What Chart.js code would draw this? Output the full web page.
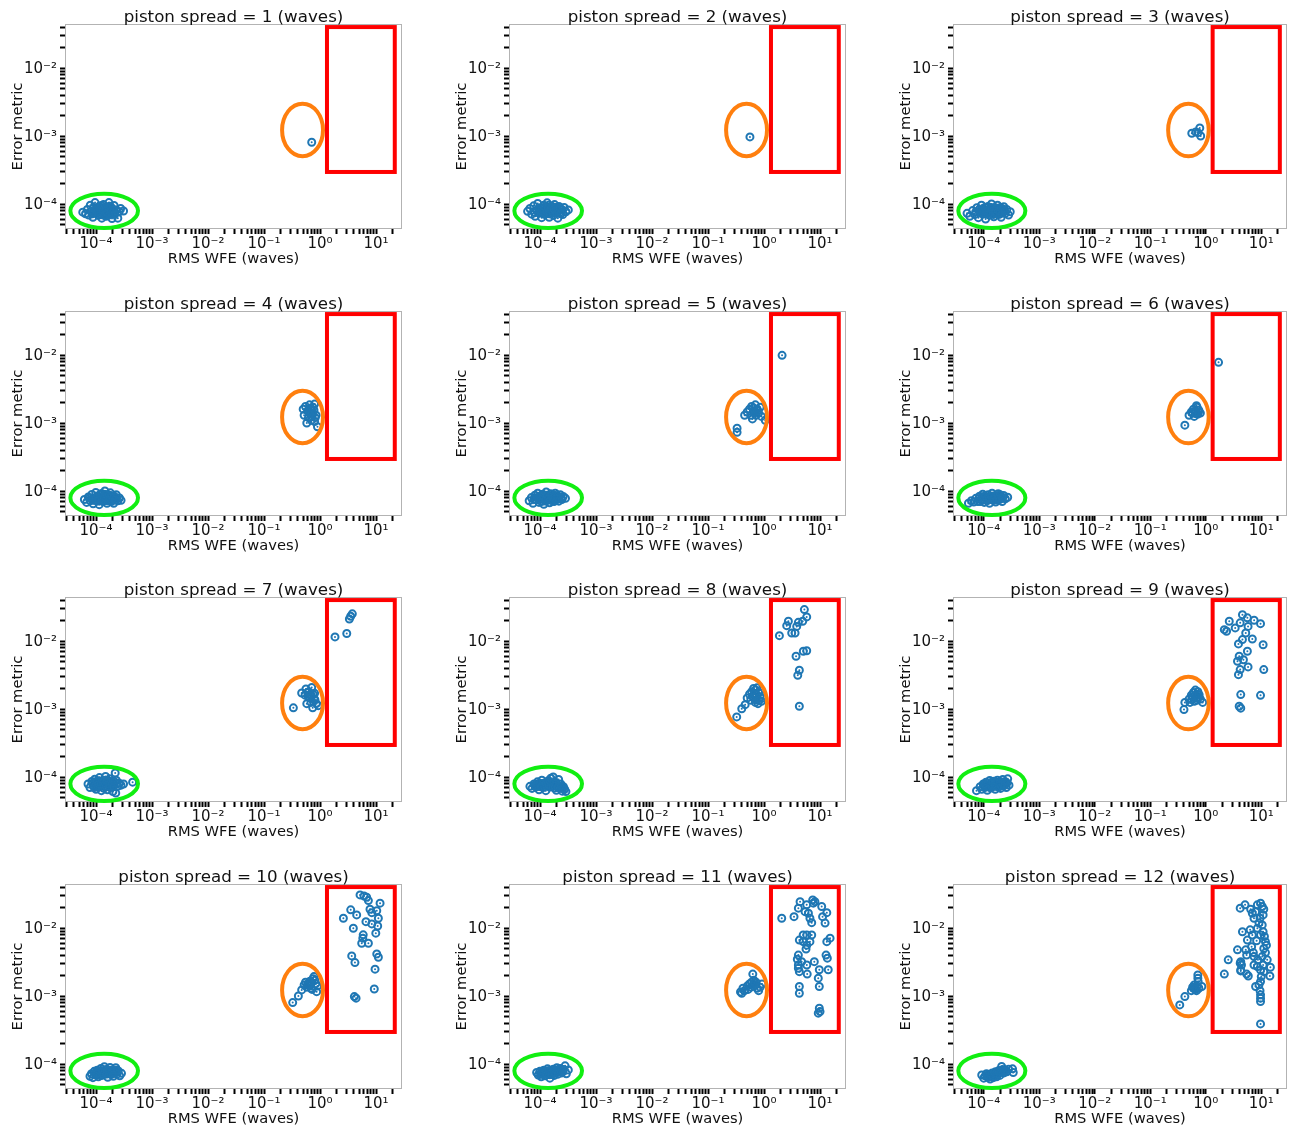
<!DOCTYPE html>
<html>
<head>
<meta charset="utf-8">
<script src="https://cdn.jsdelivr.net/npm/chart.js@4.4.1/dist/chart.umd.min.js"></script>
<style>
  html, body { margin: 0; padding: 0; background: #fff; overflow: hidden; width: 1292px; height: 1128px; }
  canvas.panel { position: absolute; }
</style>
</head>
<body>
<script>
// ---- data: [RMS WFE (waves), error metric] per piston spread ----
const spreads = [1, 2, 3, 4, 5, 6, 7, 8, 9, 10, 11, 12];

const spread1 = [
  [5.8e-5,7.6e-5],[6.5e-5,7.2e-5],[7.0e-5,8.3e-5],[7.4e-5,6.9e-5],[7.9e-5,9.6e-5],[8.3e-5,7.8e-5],[8.8e-5,6.4e-5],
  [9.2e-5,8.9e-5],[9.6e-5,1.05e-4],[1.0e-4,7.3e-5],[1.05e-4,8.1e-5],[1.1e-4,6.8e-5],[1.14e-4,9.3e-5],[1.18e-4,7.6e-5],
  [1.22e-4,8.6e-5],[1.27e-4,6.2e-5],[1.32e-4,7.9e-5],[1.36e-4,9.8e-5],[1.41e-4,7.1e-5],[1.47e-4,8.4e-5],[1.52e-4,6.6e-5],
  [1.58e-4,9.1e-5],[1.64e-4,7.7e-5],[1.7e-4,1.05e-4],[1.77e-4,7.3e-5],[1.85e-4,8.7e-5],[1.93e-4,6.1e-5],[2.0e-4,7.9e-5],
  [2.1e-4,9.5e-5],[2.2e-4,7.4e-5],[2.3e-4,8.2e-5],[2.45e-4,6.2e-5],[2.6e-4,7.7e-5],[2.75e-4,8.6e-5],[3.1e-4,7.9e-5],
  [9.0e-5,7.5e-5],[1.6e-4,8.0e-5],[1.0e-4,8.5e-5],[1.08e-4,7.6e-5],[1.15e-4,8.0e-5],[1.2e-4,7.0e-5],[1.3e-4,8.8e-5],
  [1.35e-4,7.4e-5],[1.45e-4,7.8e-5],[1.5e-4,9.0e-5],[1.55e-4,7.3e-5],[1.65e-4,8.5e-5],[1.75e-4,7.9e-5],[1.8e-4,9.3e-5],
  [1.9e-4,7.5e-5],[2.05e-4,8.3e-5],[2.15e-4,7.0e-5],[9.5e-5,8.1e-5],[8.5e-5,7.2e-5],[1.25e-4,9.5e-5],[1.4e-4,6.8e-5],
  [1.7e-4,6.9e-5],
  [0.71,8.1e-4]
];
const spread2 = [
  [6.0e-5,7.8e-5],[6.6e-5,8.6e-5],[7.1e-5,7.1e-5],[7.7e-5,9.4e-5],[8.2e-5,6.6e-5],[8.7e-5,8.1e-5],[9.1e-5,1.02e-4],
  [9.7e-5,7.3e-5],[1.02e-4,8.8e-5],[1.07e-4,6.3e-5],[1.12e-4,7.9e-5],[1.17e-4,9.6e-5],[1.22e-4,7.0e-5],[1.28e-4,8.5e-5],
  [1.34e-4,1.04e-4],[1.4e-4,7.5e-5],[1.46e-4,6.4e-5],[1.52e-4,9.0e-5],[1.59e-4,7.8e-5],[1.66e-4,8.6e-5],[1.74e-4,6.8e-5],
  [1.82e-4,9.8e-5],[1.9e-4,7.4e-5],[1.98e-4,8.3e-5],[2.08e-4,6.2e-5],[2.18e-4,9.2e-5],[2.3e-4,7.6e-5],[2.42e-4,8.4e-5],
  [2.55e-4,7.0e-5],[2.7e-4,8.9e-5],[2.9e-4,7.7e-5],[3.2e-4,8.2e-5],[1.25e-4,7.7e-5],[1.7e-4,8.0e-5],
  [9.4e-5,8.4e-5],[1.0e-4,7.7e-5],[1.1e-4,8.4e-5],[1.15e-4,7.3e-5],[1.2e-4,9.0e-5],[1.32e-4,7.8e-5],[1.38e-4,8.9e-5],
  [1.48e-4,7.2e-5],[1.55e-4,8.3e-5],[1.62e-4,9.3e-5],[1.7e-4,7.4e-5],[1.78e-4,8.4e-5],[1.86e-4,7.9e-5],[1.95e-4,9.0e-5],
  [2.02e-4,7.3e-5],[2.12e-4,8.0e-5],[2.25e-4,8.6e-5],[8.0e-5,7.5e-5],[1.44e-4,9.6e-5],[2.35e-4,7.2e-5],
  [0.56,9.7e-4]
];
const spread3 = [
  [5.0e-5,7.3e-5],[5.6e-5,6.6e-5],[6.3e-5,8.0e-5],[6.9e-5,7.0e-5],[7.5e-5,8.8e-5],[8.0e-5,6.3e-5],[8.6e-5,7.7e-5],
  [9.1e-5,9.6e-5],[9.7e-5,7.1e-5],[1.02e-4,8.4e-5],[1.08e-4,6.0e-5],[1.13e-4,7.8e-5],[1.19e-4,9.2e-5],[1.25e-4,6.9e-5],
  [1.31e-4,8.6e-5],[1.38e-4,1.0e-4],[1.45e-4,7.4e-5],[1.52e-4,6.5e-5],[1.6e-4,8.9e-5],[1.68e-4,7.6e-5],[1.77e-4,9.6e-5],
  [1.86e-4,7.0e-5],[1.96e-4,8.4e-5],[2.06e-4,6.4e-5],[2.18e-4,7.9e-5],[2.3e-4,9.1e-5],[2.45e-4,7.3e-5],[2.6e-4,8.3e-5],
  [2.8e-4,6.9e-5],[3.0e-4,7.7e-5],[1.15e-4,7.3e-5],[1.55e-4,8.1e-5],
  [8.3e-5,8.3e-5],[9.0e-5,7.3e-5],[9.9e-5,7.9e-5],[1.05e-4,8.9e-5],[1.1e-4,7.2e-5],[1.22e-4,8.2e-5],[1.28e-4,7.5e-5],
  [1.35e-4,8.0e-5],[1.42e-4,8.8e-5],[1.48e-4,7.0e-5],[1.57e-4,7.6e-5],[1.64e-4,8.4e-5],[1.72e-4,7.2e-5],[1.82e-4,8.0e-5],
  [1.92e-4,7.6e-5],[2.0e-4,8.9e-5],[2.12e-4,7.3e-5],[2.25e-4,8.4e-5],[7.2e-5,7.6e-5],[2.38e-4,7.8e-5],
  [0.56,1.1e-3],[0.66,1.15e-3],[0.78,1.31e-3],[0.81,1.0e-3],[0.72,1.12e-3]
];
const spread4 = [
  [6.2e-5,7.5e-5],[6.8e-5,6.8e-5],[7.3e-5,8.2e-5],[7.9e-5,7.2e-5],[8.4e-5,8.9e-5],[8.9e-5,6.5e-5],[9.4e-5,7.9e-5],
  [9.9e-5,9.5e-5],[1.04e-4,7.1e-5],[1.09e-4,8.4e-5],[1.14e-4,6.3e-5],[1.2e-4,7.7e-5],[1.26e-4,9.2e-5],[1.32e-4,7.0e-5],
  [1.38e-4,8.6e-5],[1.44e-4,1.0e-4],[1.5e-4,7.4e-5],[1.57e-4,6.6e-5],[1.64e-4,8.8e-5],[1.72e-4,7.6e-5],[1.8e-4,9.4e-5],
  [1.88e-4,7.0e-5],[1.97e-4,8.2e-5],[2.07e-4,6.6e-5],[2.18e-4,7.9e-5],[2.3e-4,8.8e-5],[2.45e-4,7.2e-5],[2.62e-4,7.9e-5],
  [2.8e-4,7.3e-5],[1.22e-4,7.4e-5],[1.6e-4,8.0e-5],
  [8.7e-5,7.7e-5],[9.6e-5,7.3e-5],[1.02e-4,8.1e-5],[1.12e-4,7.5e-5],[1.17e-4,8.8e-5],[1.24e-4,8.2e-5],[1.3e-4,7.6e-5],
  [1.36e-4,7.3e-5],[1.41e-4,8.1e-5],[1.47e-4,8.9e-5],[1.54e-4,7.9e-5],[1.62e-4,7.2e-5],[1.68e-4,8.3e-5],[1.76e-4,7.8e-5],
  [1.84e-4,8.6e-5],[1.93e-4,7.4e-5],[2.02e-4,7.8e-5],[2.12e-4,8.4e-5],[2.24e-4,7.4e-5],[7.6e-5,7.8e-5],
  [0.5,1.6e-3],[0.55,1.75e-3],[0.6,1.5e-3],[0.65,1.85e-3],[0.7,1.6e-3],[0.75,1.4e-3],[0.8,1.9e-3],[0.85,1.3e-3],
  [0.62,1.2e-3],[0.7,1.1e-3],[0.58,1.0e-3],[0.8,1.05e-3],[0.9,8.8e-4],[0.68,1.35e-3],[0.52,1.3e-3],[0.75,1.7e-3],
  [0.64,1.45e-3],[0.72,1.25e-3],[0.78,1.55e-3],[0.66,1.65e-3],[0.82,1.2e-3]
];
const spread5 = [
  [6.4e-5,7.2e-5],[7.0e-5,8.0e-5],[7.5e-5,6.6e-5],[8.1e-5,8.7e-5],[8.6e-5,7.4e-5],[9.1e-5,9.3e-5],[9.6e-5,6.8e-5],
  [1.01e-4,8.2e-5],[1.06e-4,7.0e-5],[1.12e-4,9.0e-5],[1.17e-4,6.4e-5],[1.23e-4,7.8e-5],[1.29e-4,9.7e-5],[1.35e-4,7.3e-5],
  [1.41e-4,8.5e-5],[1.48e-4,6.7e-5],[1.55e-4,9.1e-5],[1.62e-4,7.6e-5],[1.7e-4,8.4e-5],[1.78e-4,7.0e-5],[1.87e-4,9.3e-5],
  [1.96e-4,7.7e-5],[2.06e-4,8.5e-5],[2.17e-4,7.1e-5],[2.3e-4,8.8e-5],[2.45e-4,7.5e-5],[2.6e-4,8.3e-5],[2.85e-4,7.8e-5],
  [1.2e-4,8.1e-5],[1.6e-4,7.9e-5],
  [8.8e-5,8.0e-5],[9.8e-5,7.6e-5],[1.04e-4,8.6e-5],[1.09e-4,7.7e-5],[1.15e-4,8.3e-5],[1.26e-4,7.1e-5],[1.32e-4,8.7e-5],
  [1.38e-4,7.8e-5],[1.45e-4,8.0e-5],[1.51e-4,7.4e-5],[1.58e-4,8.6e-5],[1.66e-4,7.2e-5],[1.74e-4,7.9e-5],[1.82e-4,8.7e-5],
  [1.91e-4,7.3e-5],[2.01e-4,8.0e-5],[2.12e-4,7.8e-5],[2.22e-4,8.2e-5],[7.8e-5,7.6e-5],[2.38e-4,8.0e-5],
  [0.33,8.4e-4],[0.33,7.3e-4],[0.45,1.3e-3],[0.5,1.45e-3],[0.55,1.6e-3],[0.6,1.75e-3],[0.65,1.5e-3],[0.7,1.85e-3],
  [0.75,1.6e-3],[0.8,1.4e-3],[0.9,1.25e-3],[1.05,1.1e-3],[0.62,1.15e-3],[0.72,1.3e-3],[0.85,1.7e-3],[0.58,1.3e-3],
  [0.68,1.42e-3],[0.78,1.5e-3],[0.64,1.65e-3],
  [2.1,9.9e-3]
];
const spread6 = [
  [5.3e-5,6.6e-5],[6.0e-5,7.2e-5],[6.6e-5,6.9e-5],[7.2e-5,7.8e-5],[7.8e-5,7.0e-5],[8.4e-5,8.4e-5],[9.0e-5,7.4e-5],
  [9.6e-5,9.0e-5],[1.02e-4,6.8e-5],[1.08e-4,8.0e-5],[1.14e-4,7.2e-5],[1.2e-4,8.8e-5],[1.27e-4,6.6e-5],[1.34e-4,7.9e-5],
  [1.41e-4,9.3e-5],[1.48e-4,7.3e-5],[1.56e-4,8.5e-5],[1.64e-4,6.9e-5],[1.73e-4,8.0e-5],[1.82e-4,9.1e-5],[1.92e-4,7.5e-5],
  [2.03e-4,8.3e-5],[2.15e-4,7.0e-5],[2.28e-4,8.6e-5],[2.45e-4,7.7e-5],[2.7e-4,8.1e-5],[1.3e-4,7.5e-5],[1.7e-4,7.8e-5],
  [8.1e-5,7.7e-5],[8.7e-5,7.0e-5],[9.3e-5,8.1e-5],[9.9e-5,7.6e-5],[1.05e-4,8.5e-5],[1.11e-4,7.6e-5],[1.17e-4,8.1e-5],
  [1.24e-4,7.8e-5],[1.38e-4,8.4e-5],[1.45e-4,7.7e-5],[1.52e-4,7.9e-5],[1.6e-4,8.2e-5],[1.68e-4,7.4e-5],[1.78e-4,8.5e-5],
  [1.87e-4,7.9e-5],[1.97e-4,8.8e-5],[2.09e-4,7.8e-5],[2.2e-4,8.0e-5],
  [0.42,9.3e-4],[0.5,1.3e-3],[0.55,1.45e-3],[0.6,1.6e-3],[0.65,1.5e-3],[0.7,1.7e-3],[0.75,1.55e-3],[0.8,1.4e-3],
  [0.62,1.25e-3],[0.72,1.35e-3],[0.68,1.8e-3],[0.58,1.4e-3],[0.66,1.38e-3],[0.74,1.45e-3],
  [1.7,7.8e-3]
];
const spread7 = [
  [7.2e-5,7.9e-5],[7.8e-5,7.0e-5],[8.4e-5,8.6e-5],[9.0e-5,7.4e-5],[9.5e-5,9.3e-5],[1.0e-4,6.6e-5],[1.05e-4,8.0e-5],
  [1.1e-4,7.1e-5],[1.15e-4,9.8e-5],[1.2e-4,8.4e-5],[1.25e-4,6.3e-5],[1.3e-4,7.6e-5],[1.36e-4,9.0e-5],[1.42e-4,7.2e-5],
  [1.48e-4,1.02e-4],[1.55e-4,8.2e-5],[1.6e-4,6.5e-5],[1.67e-4,7.8e-5],[1.74e-4,9.4e-5],[1.8e-4,7.0e-5],[1.9e-4,8.6e-5],
  [2.0e-4,6.1e-5],[2.1e-4,7.7e-5],[2.2e-4,1.15e-4],[2.25e-4,5.8e-5],[2.3e-4,9.0e-5],[2.45e-4,7.3e-5],[2.6e-4,8.1e-5],
  [2.8e-4,7.6e-5],[3.1e-4,7.9e-5],[4.5e-4,8.4e-5],[1.12e-4,8.8e-5],[1.38e-4,6.8e-5],[1.63e-4,8.9e-5],[9.8e-5,7.7e-5],
  [8.7e-5,8.0e-5],[9.3e-5,7.0e-5],[1.03e-4,8.7e-5],[1.08e-4,7.6e-5],[1.18e-4,7.5e-5],[1.23e-4,7.9e-5],[1.33e-4,8.3e-5],
  [1.45e-4,8.0e-5],[1.52e-4,7.4e-5],[1.58e-4,8.6e-5],[1.7e-4,7.3e-5],[1.78e-4,8.3e-5],[1.85e-4,7.7e-5],[1.95e-4,8.2e-5],
  [2.05e-4,7.2e-5],[2.15e-4,8.5e-5],[2.38e-4,8.0e-5],
  [0.334,1.04e-3],[0.47,1.72e-3],[0.56,1.97e-3],[0.71,2.08e-3],[0.76,1.63e-3],[0.81,1.37e-3],[0.66,1.46e-3],
  [0.58,1.2e-3],[0.74,1.04e-3],[0.93,1.12e-3],[0.62,1.5e-3],[0.54,1.6e-3],[0.63,1.8e-3],[0.8,1.7e-3],[0.69,1.25e-3],
  [0.86,1.2e-3],[0.6,1.75e-3],[0.7,1.55e-3],[0.78,1.42e-3],[0.67,1.65e-3],
  [1.85,0.0115],[3.0,0.0129],[3.34,0.0211],[3.53,0.0231],[3.77,0.0251]
];
const spread8 = [
  [6.6e-5,7.3e-5],[7.2e-5,6.8e-5],[7.8e-5,7.9e-5],[8.4e-5,7.1e-5],[9.0e-5,8.5e-5],[9.6e-5,6.5e-5],[1.02e-4,7.7e-5],
  [1.08e-4,9.0e-5],[1.14e-4,7.0e-5],[1.2e-4,8.2e-5],[1.27e-4,6.3e-5],[1.34e-4,7.5e-5],[1.41e-4,8.8e-5],[1.48e-4,7.1e-5],
  [1.56e-4,9.6e-5],[1.64e-4,8.0e-5],[1.72e-4,1.0e-4],[1.8e-4,6.9e-5],[1.88e-4,8.4e-5],[1.96e-4,6.4e-5],[2.05e-4,7.6e-5],
  [2.15e-4,9.2e-5],[2.25e-4,6.8e-5],[2.35e-4,7.9e-5],[2.5e-4,6.2e-5],[2.62e-4,7.2e-5],[2.75e-4,6.6e-5],[2.9e-4,6.1e-5],
  [1.3e-4,8.4e-5],[1.6e-4,7.3e-5],[2.2e-4,7.2e-5],
  [8.1e-5,7.5e-5],[8.7e-5,7.9e-5],[9.3e-5,7.3e-5],[9.9e-5,8.1e-5],[1.05e-4,7.2e-5],[1.11e-4,7.9e-5],[1.17e-4,7.5e-5],
  [1.24e-4,7.8e-5],[1.38e-4,8.0e-5],[1.44e-4,7.7e-5],[1.52e-4,8.4e-5],[1.68e-4,7.6e-5],[1.76e-4,8.3e-5],[1.84e-4,7.4e-5],
  [1.92e-4,7.9e-5],[2.1e-4,7.0e-5],[2.3e-4,6.9e-5],[2.4e-4,7.3e-5],[2.55e-4,6.8e-5],
  [0.325,7.65e-4],[0.4,1.01e-3],[0.46,1.16e-3],[0.5,1.45e-3],[0.55,1.65e-3],[0.6,1.8e-3],[0.65,2.0e-3],[0.7,1.9e-3],
  [0.75,2.05e-3],[0.8,1.75e-3],[0.85,1.5e-3],[0.9,1.3e-3],[0.95,1.45e-3],[0.72,1.35e-3],[0.62,1.55e-3],[0.78,1.2e-3],
  [0.68,1.7e-3],[0.88,1.9e-3],[0.58,1.35e-3],[0.66,1.48e-3],[0.74,1.6e-3],[0.82,1.35e-3],[0.7,1.25e-3],
  [1.88,0.012],[2.54,0.0168],[2.72,0.0195],[3.12,0.0131],[3.58,0.0131],[3.83,0.0164],[4.1,0.0188],[4.9,0.0195],
  [5.25,0.029],[5.78,0.0226],[3.73,5.96e-3],[5.03,7.06e-3],[5.78,7.2e-3],[4.27,3.71e-3],[4.0,3.13e-3],[4.27,1.1e-3]
];
const spread9 = [
  [7.4e-5,6.3e-5],[8.6e-5,7.2e-5],[9.2e-5,6.6e-5],[9.8e-5,7.9e-5],[1.04e-4,7.0e-5],[1.1e-4,8.4e-5],[1.16e-4,6.4e-5],
  [1.22e-4,7.6e-5],[1.28e-4,8.9e-5],[1.34e-4,6.9e-5],[1.4e-4,8.1e-5],[1.47e-4,7.3e-5],[1.54e-4,8.7e-5],[1.61e-4,6.6e-5],
  [1.68e-4,7.8e-5],[1.76e-4,9.0e-5],[1.84e-4,7.1e-5],[1.92e-4,8.3e-5],[2.01e-4,6.8e-5],[2.1e-4,8.0e-5],[2.2e-4,9.2e-5],
  [2.3e-4,7.4e-5],[2.42e-4,8.5e-5],[2.55e-4,7.0e-5],[2.7e-4,9.4e-5],[2.85e-4,7.6e-5],[1.5e-4,7.6e-5],[1.8e-4,7.7e-5],
  [1.01e-4,7.5e-5],[1.07e-4,7.7e-5],[1.13e-4,7.3e-5],[1.19e-4,8.1e-5],[1.25e-4,7.2e-5],[1.31e-4,7.9e-5],[1.37e-4,7.5e-5],
  [1.44e-4,8.6e-5],[1.57e-4,8.0e-5],[1.64e-4,7.3e-5],[1.72e-4,8.4e-5],[1.88e-4,7.7e-5],[1.97e-4,8.6e-5],[2.06e-4,7.4e-5],
  [2.15e-4,8.4e-5],[2.25e-4,7.8e-5],[2.36e-4,8.1e-5],[2.48e-4,7.8e-5],[2.62e-4,8.2e-5],
  [0.405,9.8e-4],[0.42,1.25e-3],[0.5,1.4e-3],[0.55,1.6e-3],[0.6,1.75e-3],[0.65,1.9e-3],[0.7,1.65e-3],[0.75,1.5e-3],
  [0.8,1.4e-3],[0.88,1.25e-3],[0.62,1.3e-3],[0.68,1.45e-3],[0.58,1.5e-3],[0.72,1.8e-3],[0.52,1.25e-3],
  [0.64,1.55e-3],[0.76,1.62e-3],[0.7,1.35e-3],[0.56,1.38e-3],
  [2.16,0.0147],[2.37,0.0139],[2.65,0.0195],[3.39,0.0156],[4.17,0.0185],[4.58,0.0244],[5.62,0.0219],[5.78,0.0164],
  [7.43,0.0202],[9.7,0.018],[5.25,0.0131],[4.58,0.0105],[6.9,0.0107],[3.88,9.06e-3],[10.8,8.8e-3],[4.0,5.96e-3],
  [3.73,5.03e-3],[5.62,7.06e-3],[4.77,5.3e-3],[5.78,4.16e-3],[4.17,3.8e-3],[3.88,3.2e-3],[11.1,3.8e-3],
  [4.27,1.63e-3],[9.7,1.59e-3],[4.0,1.1e-3],[4.27,1.03e-3]
];
const spread10 = [
  [7.8e-5,6.6e-5],[8.3e-5,7.2e-5],[8.8e-5,6.3e-5],[9.3e-5,7.8e-5],[9.9e-5,6.9e-5],[1.05e-4,8.1e-5],[1.1e-4,6.5e-5],
  [1.16e-4,7.5e-5],[1.22e-4,8.6e-5],[1.28e-4,6.8e-5],[1.34e-4,7.9e-5],[1.41e-4,9.1e-5],[1.48e-4,7.1e-5],[1.55e-4,8.3e-5],
  [1.62e-4,6.4e-5],[1.7e-4,7.6e-5],[1.78e-4,8.9e-5],[1.86e-4,7.0e-5],[1.95e-4,8.2e-5],[2.04e-4,6.6e-5],[2.14e-4,7.7e-5],
  [2.25e-4,8.8e-5],[2.37e-4,7.1e-5],[2.5e-4,7.9e-5],[2.65e-4,6.7e-5],[2.85e-4,7.3e-5],[1.2e-4,7.3e-5],[1.65e-4,7.6e-5],
  [9.6e-5,7.3e-5],[1.02e-4,7.5e-5],[1.08e-4,7.3e-5],[1.13e-4,7.9e-5],[1.19e-4,6.9e-5],[1.25e-4,7.7e-5],[1.31e-4,7.2e-5],
  [1.38e-4,7.5e-5],[1.45e-4,8.2e-5],[1.52e-4,7.6e-5],[1.58e-4,7.2e-5],[1.74e-4,8.1e-5],[1.82e-4,7.4e-5],[1.9e-4,7.7e-5],
  [2.0e-4,7.3e-5],[2.1e-4,8.2e-5],[2.2e-4,7.4e-5],[2.32e-4,8.1e-5],
  [0.325,8.0e-4],[0.41,1.0e-3],[0.47,1.23e-3],[0.52,1.45e-3],[0.55,1.6e-3],[0.6,1.5e-3],[0.65,1.4e-3],[0.7,1.55e-3],
  [0.75,1.8e-3],[0.78,1.93e-3],[0.81,1.7e-3],[0.87,1.16e-3],[0.72,1.25e-3],[0.9,1.4e-3],[0.58,1.35e-3],[0.66,1.65e-3],
  [0.62,1.45e-3],[0.84,1.52e-3],[0.69,1.3e-3],
  [2.61,0.0139],[3.53,0.0185],[4.51,0.0156],[3.93,9.93e-3],[5.18,0.0307],[6.1,0.0296],[6.8,0.0283],[7.3,0.0253],
  [11.8,0.0232],[7.8,0.0189],[8.4,0.0168],[10.3,0.018],[6.6,0.0124],[8.4,0.0115],[11.0,0.0139],[10.7,0.0107],
  [5.9,7.94e-3],[5.8,7.1e-3],[5.55,5.97e-3],[7.3,5.97e-3],[9.9,8.4e-3],[3.68,3.89e-3],[4.2,3.1e-3],[10.3,4.16e-3],
  [11.0,3.72e-3],[9.6,2.48e-3],[9.3,1.27e-3],[4.1,9.8e-4],[4.4,9.3e-4]
];
const spread11 = [
  [8.7e-5,7.5e-5],[9.3e-5,6.9e-5],[9.9e-5,7.8e-5],[1.05e-4,6.5e-5],[1.11e-4,7.3e-5],[1.17e-4,8.1e-5],[1.23e-4,6.7e-5],
  [1.29e-4,7.6e-5],[1.36e-4,8.5e-5],[1.43e-4,7.0e-5],[1.5e-4,6.2e-5],[1.57e-4,7.9e-5],[1.65e-4,7.2e-5],[1.73e-4,8.4e-5],
  [1.81e-4,6.8e-5],[1.9e-4,7.7e-5],[2.0e-4,8.8e-5],[2.1e-4,7.1e-5],[2.2e-4,7.9e-5],[2.32e-4,8.6e-5],[2.45e-4,7.4e-5],
  [2.6e-4,8.3e-5],[2.8e-4,9.4e-5],[2.95e-4,7.2e-5],[3.2e-4,8.2e-5],[1.4e-4,7.7e-5],[1.8e-4,7.5e-5],
  [1.02e-4,7.2e-5],[1.08e-4,7.8e-5],[1.14e-4,7.0e-5],[1.2e-4,7.5e-5],[1.26e-4,7.9e-5],[1.33e-4,7.2e-5],[1.46e-4,8.0e-5],
  [1.54e-4,7.4e-5],[1.61e-4,7.0e-5],[1.69e-4,7.7e-5],[1.77e-4,8.0e-5],[1.86e-4,7.3e-5],[1.95e-4,8.1e-5],[2.05e-4,7.6e-5],
  [2.15e-4,8.3e-5],[2.26e-4,7.7e-5],[2.38e-4,8.0e-5],[2.52e-4,7.9e-5],
  [0.38,1.15e-3],[0.42,1.3e-3],[0.45,1.2e-3],[0.5,1.4e-3],[0.55,1.5e-3],[0.6,1.6e-3],[0.63,2.1e-3],[0.66,1.7e-3],
  [0.7,1.45e-3],[0.75,1.3e-3],[0.8,1.2e-3],[0.85,1.35e-3],[0.92,1.5e-3],[0.72,1.6e-3],[0.52,1.25e-3],[0.58,1.35e-3],
  [0.4,1.1e-3],[0.64,1.42e-3],[0.68,1.55e-3],
  [2.07,0.0139],[3.43,0.0147],[4.1,0.0196],[4.4,0.0244],[5.78,0.0219],[5.4,0.0174],[6.2,0.0165],[7.4,0.0258],
  [8.1,0.0244],[7.6,0.0232],[10.7,0.0207],[13.2,0.0168],[6.6,0.0139],[7.1,0.012],[11.1,0.0147],[12.3,0.0118],
  [5.0,7.9e-3],[5.8,7.9e-3],[7.1,7.9e-3],[4.27,6.65e-3],[5.0,6.3e-3],[5.8,5.6e-3],[6.6,6.3e-3],[5.62,4.9e-3],
  [13.2,6.3e-3],[15.1,7.1e-3],[4.1,4.0e-3],[3.93,3.47e-3],[4.7,3.2e-3],[4.1,2.86e-3],[4.1,2.56e-3],[4.27,2.28e-3],
  [5.8,2.86e-3],[5.9,2.1e-3],[7.9,3.2e-3],[12.8,4.0e-3],[13.5,3.6e-3],[9.7,2.43e-3],[14.0,2.43e-3],[9.3,1.83e-3],
  [9.7,1.38e-3],[4.27,1.38e-3],[4.27,1.1e-3],[9.7,6.6e-4],[10.0,5.9e-4],[9.3,5.6e-4]
];
const spread12 = [
  [9.2e-5,6.9e-5],[1.0e-4,6.2e-5],[1.06e-4,6.7e-5],[1.12e-4,7.2e-5],[1.18e-4,6.4e-5],[1.24e-4,7.0e-5],[1.3e-4,6.0e-5],
  [1.36e-4,6.6e-5],[1.42e-4,7.4e-5],[1.49e-4,6.3e-5],[1.56e-4,6.9e-5],[1.63e-4,7.7e-5],[1.7e-4,6.5e-5],[1.78e-4,7.3e-5],
  [1.86e-4,8.0e-5],[1.95e-4,6.8e-5],[2.05e-4,7.6e-5],[2.1e-4,9.2e-5],[2.2e-4,8.3e-5],[2.32e-4,7.4e-5],[2.45e-4,8.1e-5],
  [2.6e-4,7.7e-5],[2.8e-4,8.4e-5],[3.3e-4,8.5e-5],[3.4e-4,7.5e-5],[1.5e-4,7.1e-5],
  [1.15e-4,6.8e-5],[1.21e-4,6.6e-5],[1.27e-4,6.5e-5],[1.33e-4,6.9e-5],[1.39e-4,7.0e-5],[1.46e-4,6.7e-5],[1.53e-4,7.3e-5],
  [1.6e-4,7.0e-5],[1.67e-4,7.2e-5],[1.74e-4,7.6e-5],[1.82e-4,7.1e-5],[1.9e-4,7.6e-5],[2.0e-4,7.9e-5],[2.15e-4,7.8e-5],
  [2.25e-4,8.0e-5],[2.38e-4,7.8e-5],
  [0.34,7.4e-4],[0.42,9.8e-4],[0.72,2.04e-3],[0.72,1.83e-3],[0.73,1.63e-3],[0.85,1.38e-3],[0.55,1.2e-3],[0.6,1.3e-3],
  [0.65,1.25e-3],[0.7,1.4e-3],[0.62,1.45e-3],[0.68,1.2e-3],[0.75,1.3e-3],[0.58,1.35e-3],[0.64,1.35e-3],[0.66,1.28e-3],
  [2.16,2.1e-3],[2.54,3.4e-3],[3.73,4.77e-3],[4.17,0.0196],[5.1,0.0219],[4.58,8.8e-3],[4.27,3.2e-3],[4.4,2.86e-3],
  [4.27,2.34e-3],[5.25,4.77e-3],[5.62,6.65e-3],[5.45,2.1e-3],[5.84,1.97e-3],[6.3,9.4e-3],[6.9,7.9e-3],[7.4,3.8e-3],
  [7.2,4.35e-3],[8.25,6.5e-3],[7.9,1.38e-3],[6.44,0.0189],[6.9,0.0165],[7.4,0.0139],[7.9,0.0174],[8.5,0.0219],
  [9.7,0.0232],[10.4,0.0207],[11.1,0.0189],[10.8,0.0156],[9.5,0.0139],[9.1,0.0118],[10.4,0.0111],[8.5,9.9e-3],
  [10.8,8.8e-3],[9.7,7.9e-3],[11.4,7.5e-3],[11.9,6.3e-3],[12.4,5.6e-3],[11.1,5.0e-3],[11.9,4.35e-3],[10.4,3.8e-3],
  [12.8,3.4e-3],[10.8,2.86e-3],[9.7,2.41e-3],[11.1,2.28e-3],[10.0,1.93e-3],[9.7,1.63e-3],[9.1,1.46e-3],[9.5,1.2e-3],
  [9.7,1.04e-3],[9.7,9.3e-4],[9.7,8.3e-4],[9.7,3.89e-4],[14.6,2.65e-3],[14.3,1.97e-3],[8.5,2.7e-3],[7.4,2.86e-3],
  [6.7,5.3e-3],[5.45,4.0e-3],[4.17,3.04e-3],[4.27,2.41e-3],[8.7,3.4e-3]
];
const runs = [spread1, spread2, spread3, spread4, spread5, spread6,
              spread7, spread8, spread9, spread10, spread11, spread12];

// ---- axis limits ----
const xLimits = [2.91e-5, 27.9];
const yLimits = [4.44e-5, 0.0429];

// ---- highlighted regions (data coordinates) ----
const regionConverged = { x: [3.48e-5, 5.62e-4], y: [4.44e-5, 1.42e-4], color: '#11ee11' };
const regionLocal     = { x: [0.21, 1.13],       y: [5.03e-4, 2.99e-3], color: '#ff7f0e' };
const regionDiverged  = { x: [1.33, 21.6],       y: [2.96e-4, 0.040],   color: '#ff0000' };

// ---- helpers ----
const FONT = "'DejaVu Sans', 'Liberation Sans', sans-serif";
const SUP = { '-': '\u207B', '0': '\u2070', '1': '\u00B9', '2': '\u00B2', '3': '\u00B3',
              '4': '\u2074', '5': '\u2075', '6': '\u2076', '7': '\u2077', '8': '\u2078', '9': '\u2079' };

function isDecade(v) {
  const e = Math.round(Math.log10(v));
  return Math.abs(v - Math.pow(10, e)) < 1e-6 * Math.pow(10, e);
}
function decadeLabel(v) {
  if (!isDecade(v)) return '';
  const e = String(Math.round(Math.log10(v)));
  return '10' + e.split('').map(ch => SUP[ch]).join('');
}
function logTicks(lo, hi) {
  const out = [];
  for (let e = Math.floor(Math.log10(lo)); e <= Math.ceil(Math.log10(hi)); e++) {
    for (let m = 1; m <= 9; m++) {
      const v = m * Math.pow(10, e);
      if (v >= lo && v <= hi) out.push({ value: v, major: m === 1 });
    }
  }
  return out;
}

// frame, regions, marker centres and panel texts
const panelDecor = {
  id: 'panelDecor',
  beforeDatasetsDraw(chart) {
    const { ctx, chartArea: a } = chart;
    ctx.save();
    ctx.strokeStyle = '#b3b3b3';
    ctx.lineWidth = 1;
    ctx.strokeRect(a.left - 0.5, a.top - 0.5, a.right - a.left + 1, a.bottom - a.top + 1);
    ctx.restore();
  },
  afterDatasetsDraw(chart) {
    const { ctx, scales: { x, y } } = chart;
    ctx.save();
    // centre dot of every marker
    ctx.fillStyle = '#1f77b4';
    chart.getDatasetMeta(0).data.forEach(pt => {
      ctx.beginPath();
      ctx.arc(pt.x, pt.y, 1.0, 0, Math.PI * 2);
      ctx.fill();
    });
    ctx.lineWidth = 4;
    [regionConverged, regionLocal].forEach(r => {
      const x0 = x.getPixelForValue(r.x[0]), x1 = x.getPixelForValue(r.x[1]);
      const y0 = y.getPixelForValue(r.y[1]), y1 = y.getPixelForValue(r.y[0]);
      ctx.strokeStyle = r.color;
      ctx.beginPath();
      ctx.ellipse((x0 + x1) / 2, (y0 + y1) / 2, (x1 - x0) / 2, (y1 - y0) / 2, 0, 0, Math.PI * 2);
      ctx.stroke();
    });
    const r = regionDiverged;
    const rx0 = x.getPixelForValue(r.x[0]), rx1 = x.getPixelForValue(r.x[1]);
    const ry0 = y.getPixelForValue(r.y[1]), ry1 = y.getPixelForValue(r.y[0]);
    ctx.strokeStyle = r.color;
    ctx.strokeRect(rx0, ry0, rx1 - rx0, ry1 - ry0);
    ctx.restore();
  },
  afterDraw(chart, args, opts) {
    const { ctx, chartArea: a } = chart;
    const cx = (a.left + a.right) / 2;
    ctx.save();
    ctx.fillStyle = '#111';
    ctx.textAlign = 'center';
    ctx.textBaseline = 'alphabetic';
    ctx.font = '16.7px ' + FONT;
    ctx.fillText(opts.title, cx, a.top - 3);
    ctx.font = '14.7px ' + FONT;
    ctx.fillText('RMS WFE (waves)', cx, a.bottom + 35);
    ctx.translate(21.5, (a.top + a.bottom) / 2);
    ctx.rotate(-Math.PI / 2);
    ctx.fillText('Error metric', 0, 0);
    ctx.restore();
  }
};

const tickGrid = { display: true, drawOnChartArea: false, drawTicks: true, tickLength: 6, tickWidth: 2, tickColor: '#000' };

runs.forEach((run, i) => {
  const col = i % 3, row = Math.floor(i / 3);
  const left = col * 444, top = Math.round(row * 286.7);
  const width = Math.min(444, 1292 - left), height = 268;
  const cv = document.createElement('canvas');
  cv.className = 'panel';
  cv.width = width; cv.height = height;
  cv.style.left = left + 'px'; cv.style.top = top + 'px';
  cv.style.width = width + 'px'; cv.style.height = height + 'px';
  document.body.appendChild(cv);

  new Chart(cv, {
    type: 'scatter',
    data: {
      datasets: [{
        data: run.map(([wfe, err]) => ({ x: wfe, y: err })),
        pointStyle: 'circle',
        pointRadius: 3.5,
        pointBorderWidth: 2,
        borderColor: '#1f77b4',
        backgroundColor: 'rgba(0,0,0,0)'
      }]
    },
    options: {
      responsive: false,
      animation: false,
      devicePixelRatio: 1,
      events: [],
      layout: { padding: { left: 0, top: 25, right: width - 401, bottom: 0 } },
      plugins: {
        legend: { display: false },
        tooltip: { enabled: false },
        panelDecor: { title: 'piston spread = ' + spreads[i] + ' (waves)' }
      },
      scales: {
        x: {
          type: 'logarithmic', min: xLimits[0], max: xLimits[1], bounds: 'data',
          afterBuildTicks: s => { s.ticks = logTicks(xLimits[0], xLimits[1]); },
          afterFit: s => { s.height = 40; },
          grid: tickGrid,
          border: { display: false },
          ticks: { autoSkip: false, maxRotation: 0, minRotation: 0, padding: 1, color: '#111',
                   font: { family: FONT, size: 15 }, callback: v => decadeLabel(v) }
        },
        y: {
          type: 'logarithmic', min: yLimits[0], max: yLimits[1], bounds: 'data',
          afterBuildTicks: s => { s.ticks = logTicks(yLimits[0], yLimits[1]); },
          afterFit: s => { s.width = 66; },
          grid: tickGrid,
          border: { display: false },
          ticks: { autoSkip: false, padding: 3, color: '#111', labelOffset: 1,
                   font: { family: FONT, size: 15 }, callback: v => decadeLabel(v) }
        }
      }
    },
    plugins: [panelDecor]
  });
});
</script>
</body>
</html>
